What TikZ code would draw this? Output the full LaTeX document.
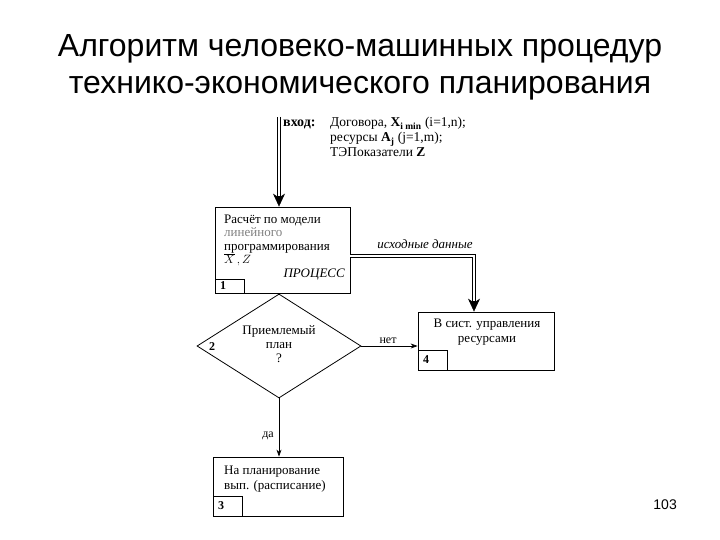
\documentclass[tikz,border=0pt]{standalone}
\usepackage{fontspec}
\setmainfont{Liberation Serif}
\newfontfamily\titlefont{Liberation Sans}
\usetikzlibrary{shapes.geometric,arrows.meta,positioning}
\tikzset{
  block/.style={draw, line width=0.8pt, inner sep=0pt},
  tag/.style={draw, line width=0.8pt, inner ysep=0pt, inner xsep=5pt,
    text width=19pt, align=left, minimum height=20pt, anchor=south west,
    font=\bfseries\fontsize{12}{12}\selectfont},
  txt/.style={inner sep=0pt, font=\fontsize{13}{14}\selectfont},
  small/.style={inner sep=0pt, font=\fontsize{13.5}{15}\selectfont},
  flow/.style={line width=0.7pt, -{Stealth[length=7pt,width=5pt]}},
  dbl/.style={line width=3.6pt,
    -{Stealth[length=13pt,width=12pt,inset=4pt,line width=0.5pt]},
    postaction={draw=white, line width=2.2pt, -, shorten >=11pt}}
}
\begin{document}
\begin{tikzpicture}[x=1pt,y=-1pt]
  \useasboundingbox (0,0) rectangle (720,540);

  % title
  \node[anchor=base, inner sep=0pt, align=center,
    font=\titlefont\fontsize{32}{37}\selectfont] (title) at (360,94)
    {Алгоритм человеко-машинных процедур\\технико-экономического планирования};

  % input
  \coordinate (in) at (279,117);
  \node[small, anchor=base west, font=\bfseries\fontsize{14}{15}\selectfont] (inlab) at (283,127) {вход:};
  \node[small, anchor=base west, align=left] (indata) at (330,157)
    {Договора, \textbf{X}\textsubscript{\textbf{i min}} (i=1,n);\\
     ресурсы \textbf{A}\textsubscript{\textbf{j}} (j=1,m);\\
     ТЭПоказатели \textbf{Z}};

  % blocks
  \node[block, minimum width=135pt, minimum height=86pt] (b1) at (282.5,250) {};
  \node[block, diamond, minimum width=164pt, minimum height=104pt] (d2) at (279,346) {};
  \node[block, minimum width=136pt, minimum height=58pt] (b4) at (486,341) {};
  \node[block, minimum width=130pt, minimum height=59pt] (b3) at (278,486.5) {};

  % block texts
  \node[txt, anchor=base west, align=left, font=\fontsize{13}{13.5}\selectfont] (t1) at (224,263.5)
    {Расчёт по модели\\ \textcolor{gray}{линейного}\\ программирования\\ $\overline{X}\,,Z$};
  \node[txt, anchor=base east, font=\itshape\fontsize{13}{14}\selectfont] (proc) at (345,277) {ПРОЦЕСС};
  \node[txt, anchor=base, align=center] (t2) at (279,362) {Приемлемый\\план\\?};
  \node[txt, anchor=base, align=center, font=\fontsize{13}{15}\selectfont] (t4) at (487,342)
    {В сист. управления\\ресурсами};
  \node[txt, anchor=base west, align=left, font=\fontsize{13}{14.5}\selectfont] (t3) at (224,489)
    {На планирование\\вып. (расписание)};

  % numbers
  \node[tag, minimum height=14pt] (n1) at (b1.south west) {1};
  \node[inner sep=0pt, anchor=base west, font=\bfseries\fontsize{12}{12}\selectfont] (n2) at (209,350) {2};
  \node[tag] (n4) at (b4.south west) {4};
  \node[tag] (n3) at (b3.south west) {3};

  % connectors
  \coordinate (turn) at (474,256);
  \draw[dbl] (in) -- (in |- b1.north);
  \draw[dbl] (b1.east |- turn) -- (turn) -- (turn |- b4.north);
  \node[txt, anchor=base, font=\itshape\fontsize{13}{14}\selectfont] (src) at (425,248) {исходные данные};
  \draw[flow] (d2.east) -- (d2.east -| b4.west);
  \node[txt, anchor=base, font=\fontsize{12}{14}\selectfont] (no) at (388,343) {нет};
  \draw[flow] (d2.south) -- (d2.south |- b3.north);
  \node[txt, anchor=base east, font=\fontsize{12}{14}\selectfont] (yes) at (274,437) {да};

  % page number
  \node[inner sep=0pt, anchor=base east, font=\titlefont\fontsize{14}{14}\selectfont] (page) at (677,509) {103};
\end{tikzpicture}
\end{document}
